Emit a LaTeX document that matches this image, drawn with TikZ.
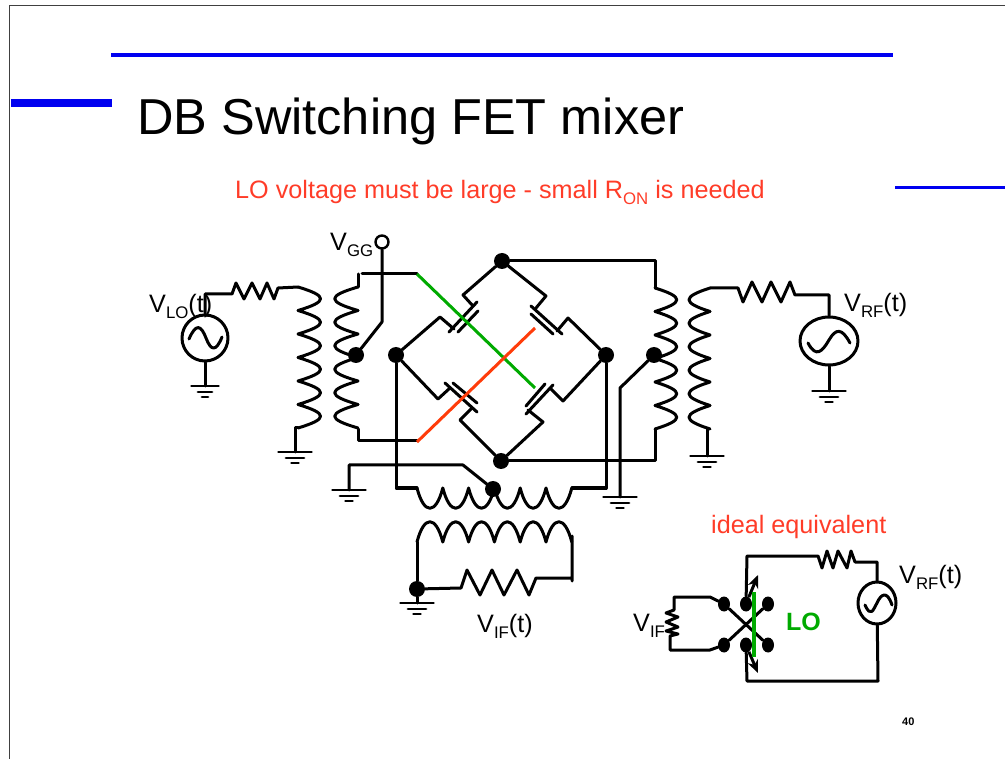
\documentclass[tikz,border=0pt]{standalone}
\usepackage{fontspec}
\setmainfont{Liberation Sans}
\usetikzlibrary{shapes.geometric,arrows.meta}
\definecolor{lineblue}{RGB}{0,0,240}
\definecolor{labelred}{RGB}{255,60,40}
\definecolor{lored}{RGB}{255,60,10}
\definecolor{logreen}{RGB}{0,170,0}
\newcommand{\fsz}[1]{\fontsize{#1}{#1}\selectfont}
\newcommand{\vlabel}[2]{V\raisebox{-6pt}{\fsz{16.8}#1}#2}
\newcommand{\coil}[5]{\draw[wire] (#1) foreach \n in {1,...,#2} { .. controls +(#3) and +(#4) .. ++(#5) };}
\begin{document}
\begin{tikzpicture}[x=1pt,y=-1pt,
    wire/.style={line width=3pt,line join=round,line cap=round},
    dot/.style={circle,fill=black,inner sep=0pt,minimum size=16pt},
    smalldot/.style={ellipse,fill=black,inner sep=0pt,minimum width=12pt,minimum height=15pt},
    source/.style={wire,draw,inner sep=0pt,fill=white},
    label/.style={anchor=base west,inner sep=0pt,font=\fsz{25.2}},
    gnd/.pic={\draw[line width=2.8pt] (-16.5,0) -- (16.5,0) (-9,6) -- (9,6) (-3.5,11) -- (3.5,11);},
    smallgnd/.pic={\draw[line width=2.8pt] (-13.5,0) -- (13.5,0) (-7,6) -- (7,6) (-3,11) -- (3,11);}]
    \useasboundingbox (0,0) rectangle (1005,759);

    % Slide frame and title
    \draw[line width=1pt,black!75] (9.5,759) -- (9.5,5.5) -- (1005,5.5);
    \draw[lineblue,line width=4.4pt] (111,55) -- (893,55);
    \draw[lineblue,line width=8pt] (11,103) -- (112,103);
    \draw[lineblue,line width=3pt] (895,188) -- (1005,188);
    \node[label,font=\fsz{50.5}] (title) at (137,135) {DB Switching FET mixer};
    \node[label,text=labelred] (note) at (235,199) {LO voltage must be large - small R\raisebox{-6pt}{\fsz{16.8}ON} is needed};
    \node[label,text=labelred] (ideal) at (711,533) {ideal equivalent};
    \node[label,font=\fsz{11}\bfseries] (page) at (902,725) {40};

    % Define vertices
    \node[dot] (top) at (502,261) {};
    \node[dot] (left) at (396,355) {};
    \node[dot] (right) at (606,355) {};
    \node[dot] (bottom) at (501,461) {};
    \node[dot] (lotap) at (356,355) {};
    \node[dot] (rftap) at (654,355) {};
    \node[dot] (iftap) at (493,489) {};
    \node[dot] (ifgnd) at (417,589) {};
    \node[source,circle,minimum size=46pt] (losrc) at (205,338) {};
    \node[source,ellipse,minimum width=58pt,minimum height=48pt] (rfsrc) at (829,341) {};
    \node[circle,draw,line width=2.4pt,fill=white,inner sep=0pt,minimum size=13pt] (vgg) at (382,242) {};

    % Labels
    \node[label] (vlo) at (149,313) {\vlabel{LO}{(t)}};
    \node[label] (vgglabel) at (330,251) {\vlabel{GG}{}};
    \node[label] (vrf) at (844,312) {\vlabel{RF}{(t)}};
    \node[label] (vif) at (477,632) {\vlabel{IF}{(t)}};

    % Transformers
    \coordinate (lop) at (298,287);
    \coordinate (los) at (358,287);
    \coordinate (rfp) at (655,288);
    \coordinate (rfs) at (710,288);
    \coordinate (ifp) at (417,488);
    \coordinate (ifs) at (417,542);
    \coil{lop}{6}{30,9}{30,-9}{0,23.5}
    \coil{los}{6}{-31,9}{-31,-9}{0,23.5}
    \coil{rfp}{6}{29,9}{29,-9}{0,23.5}
    \coil{rfs}{6}{-28,9}{-28,-9}{0,23.5}
    \coil{ifp}{6}{7,27}{-7,27}{25.8,0}
    \coil{ifs}{6}{7,-27}{-7,-27}{25.8,0}

    % LO port
    \draw[wire] (losrc) -- (205,294) -- (232,294) -- (236,283) -- (244,299) -- (252,283) -- (260,299)
        -- (267,283) -- (274,299) -- (278,288) -- (lop);
    \draw[wire] (losrc) -- (205,386) pic {smallgnd};
    \draw[wire] (189,339) .. controls (196,323) and (201,325) .. (206,338) .. controls (211,351) and (216,352) .. (222,337);
    \draw[wire] (298,428) -- (295,428) -- (295,452) pic {gnd};
    \draw[wire] (358,429) -- (358,441) -- (417,441);
    \draw[wire] (358,287) -- (358,274) (362,274) -- (417,274);
    \draw[wire] (vgg) -- (382,322) -- (lotap);

    % RF port
    \draw[wire] (rfs) -- (738,288) -- (743,302) -- (752,282) -- (762,302) -- (771,282) -- (781,302)
        -- (790,282) -- (795,295) -- (829,295) -- (rfsrc);
    \draw[wire] (rfsrc) -- (829,391) pic {gnd};
    \draw[wire] (808,343) .. controls (816,358) and (822,352) .. (829,340) .. controls (836,328) and (842,328) .. (850,343);
    \draw[wire] (707,429) -- (707,456) pic {gnd};
    \draw[wire] (top) -- (655,261) -- (rfp);
    \draw[wire] (655,429) -- (655,461) -- (bottom);
    \draw[wire] (rftap) -- (620,388) -- (620,497) pic {gnd};

    % Ring of FETs
    \draw[wire] (top) -- (463,295) -- (473,306);
    \draw[wire] (477,302) -- (449,332) (478,311) -- (458,332);
    \draw[wire] (left) -- (440,317) -- (454,329);
    \draw[wire] (top) -- (546,296) -- (536,308);
    \draw[wire] (531,306) -- (562,334) (531,314) -- (553,334);
    \draw[wire] (right) -- (568,318) -- (557,331);
    \draw[wire] (left) -- (438,399) -- (450,388);
    \draw[wire] (445,383) -- (477,412) (453,383) -- (477,403);
    \draw[wire] (bottom) -- (460,420) -- (472,408);
    \draw[wire] (bottom) -- (543,422) -- (528,410);
    \draw[wire] (545,384) -- (526,406) (553,385) -- (526,414);
    \draw[wire] (right) -- (563,401) -- (550,388);
    \draw[logreen,line width=3pt] (417,274) -- (535,388);
    \draw[lored,line width=3pt] (417,442) -- (535,328);

    % IF port
    \draw[wire] (left) -- (396,488) -- (ifp);
    \draw[wire] (572,488) -- (606,488) -- (right);
    \draw[wire] (iftap) -- (463,465) -- (349,465) -- (349,490) pic {gnd};
    \draw[wire] (ifs) -- (ifgnd);
    \draw[wire] (572,536) -- (572,581) (572,578) -- (536,578) -- (529,595) -- (517,570) -- (504,595)
        -- (492,570) -- (480,595) -- (467,570) -- (461,588) -- (ifgnd);
    \draw[wire] (ifgnd) -- (417,603) pic {gnd};

    % Ideal equivalent
    \node[smalldot] (ifa) at (724,604) {};
    \node[smalldot] (ifb) at (724,645) {};
    \node[smalldot] (rfa) at (746,604) {};
    \node[smalldot] (rfb) at (746,645) {};
    \node[smalldot] (sideb) at (768,604) {};
    \node[smalldot] (sidea) at (768,645) {};
    \node[source,ellipse,minimum width=38pt,minimum height=42pt] (eqsrc) at (877,603) {};
    \coordinate (upper) at (758,575);
    \coordinate (lower) at (758,673);
    \draw[wire] (ifa) -- (sidea) (ifb) -- (sideb);
    \draw[wire] (rfa) -- (747,556) -- (818,556) -- (822,568) -- (827,551) -- (833,568) -- (838,551)
        -- (847,568) -- (851,551) -- (855,562) -- (877,562) -- (eqsrc);
    \draw[wire] (rfb) -- (747,681) -- (878,681) -- (eqsrc);
    \draw[wire] (865,605) .. controls (871,618) and (873,610) .. (877,603) .. controls (881,594) and (887,590) .. (892,605);
    \draw[wire,line cap=butt,-{Stealth[length=13pt,width=11pt]}] (rfa) -- (upper);
    \draw[wire,line cap=butt,-{Stealth[length=13pt,width=11pt]}] (rfb) -- (lower);
    \draw[logreen,line width=3.4pt] (754,592) -- (754,657);
    \draw[wire] (ifa) -- (710,597) -- (674,597) -- (674,610) -- (666,613) -- (678,617) -- (666,622)
        -- (678,627) -- (666,631) -- (678,634) -- (670,636) -- (670,650) -- (710,650) -- (ifb);
    \node[label,text=logreen,font=\fsz{25}\bfseries] (lolabel) at (786,630) {LO};
    \node[label] (vrfeq) at (899,583) {\vlabel{RF}{(t)}};
    \node[label] (vifeq) at (633,631) {\vlabel{IF}{}};
\end{tikzpicture}
\end{document}
